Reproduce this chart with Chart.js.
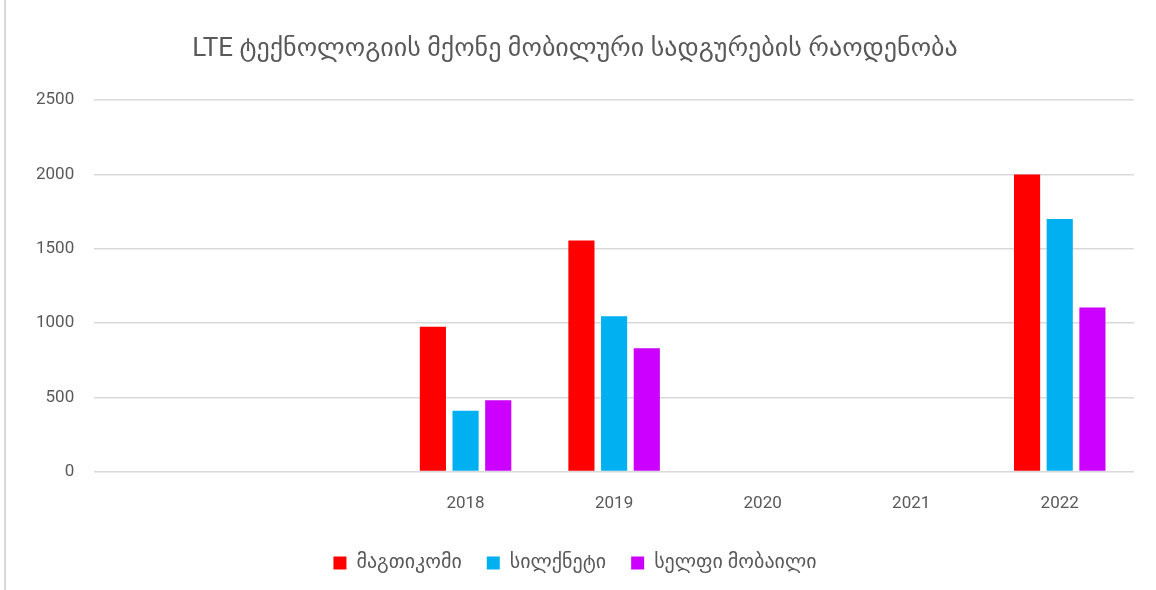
<!DOCTYPE html>
<html>
<head>
<meta charset="utf-8">
<script src="https://cdn.jsdelivr.net/npm/chart.js@4/dist/chart.umd.min.js"></script>
<style>
  html, body { margin: 0; padding: 0; background: #fff; }
  #wrap { height: 590px; position: relative; box-sizing: border-box; border-left: 2px solid #d9d9d9; margin-left: 4px; width: 1152px; }
</style>
</head>
<body>
<div id="wrap"><canvas id="lteChart"></canvas></div>
<script>
// categories (two empty slots before 2018, as in the original)
const years = ["", "", "2018", "2019", "2020", "2021", "2022"];

// series values
const magticom = [null, null, 975, 1555, null, null, 2000];
const silknet = [null, null, 410, 1045, null, null, 1700];
const cellfie = [null, null, 480, 830, null, null, 1105];

const seriesNames = ["მაგთიკომი", "სილქნეტი", "სელფი მობაილი"];
const titleText = "LTE ტექნოლოგიის მქონე მობილური სადგურების რაოდენობა";

const fontFamily = "Roboto, 'DejaVu Sans', sans-serif";
const textColor = "#595959";

const ctx = document.getElementById("lteChart");
new Chart(ctx, {
  type: "bar",
  data: {
    labels: years,
    datasets: [
      { label: seriesNames[0], data: magticom, backgroundColor: "rgb(255, 0, 0)" },
      { label: seriesNames[1], data: silknet, backgroundColor: "rgb(0, 176, 240)" },
      { label: seriesNames[2], data: cellfie, backgroundColor: "rgb(204, 0, 255)" },
    ],
  },
  options: {
    responsive: true,
    maintainAspectRatio: false,
    animation: false,
    layout: { padding: { left: 10, right: 22, top: 34, bottom: 7 } },
    datasets: {
      bar: { categoryPercentage: 0.66, barPercentage: 0.8 }
    },
    plugins: {
      title: {
        display: true,
        text: titleText,
        color: textColor,
        font: { family: fontFamily, size: 26, weight: "normal" },
        padding: { top: 0, bottom: 35 },
      },
      legend: {
        position: "bottom",
        labels: {
          color: textColor,
          font: { family: fontFamily, size: 20 },
          boxWidth: 13,
          boxHeight: 13,
          padding: 25,
        },
      },
      tooltip: { enabled: false },
    },
    scales: {
      x: {
        grid: { display: false },
        border: { display: false },
        ticks: { color: textColor, font: { family: fontFamily, size: 17 }, padding: 14 },
      },
      y: {
        min: 0,
        max: 2500,
        ticks: {
          stepSize: 500,
          color: textColor,
          font: { family: fontFamily, size: 17 },
          padding: 20,
          callback: (v) => String(v),
        },
        grid: { color: "#d9d9d9", lineWidth: 1.5, drawTicks: false },
        border: { display: false },
      },
    },
  },
});
</script>
</body>
</html>
